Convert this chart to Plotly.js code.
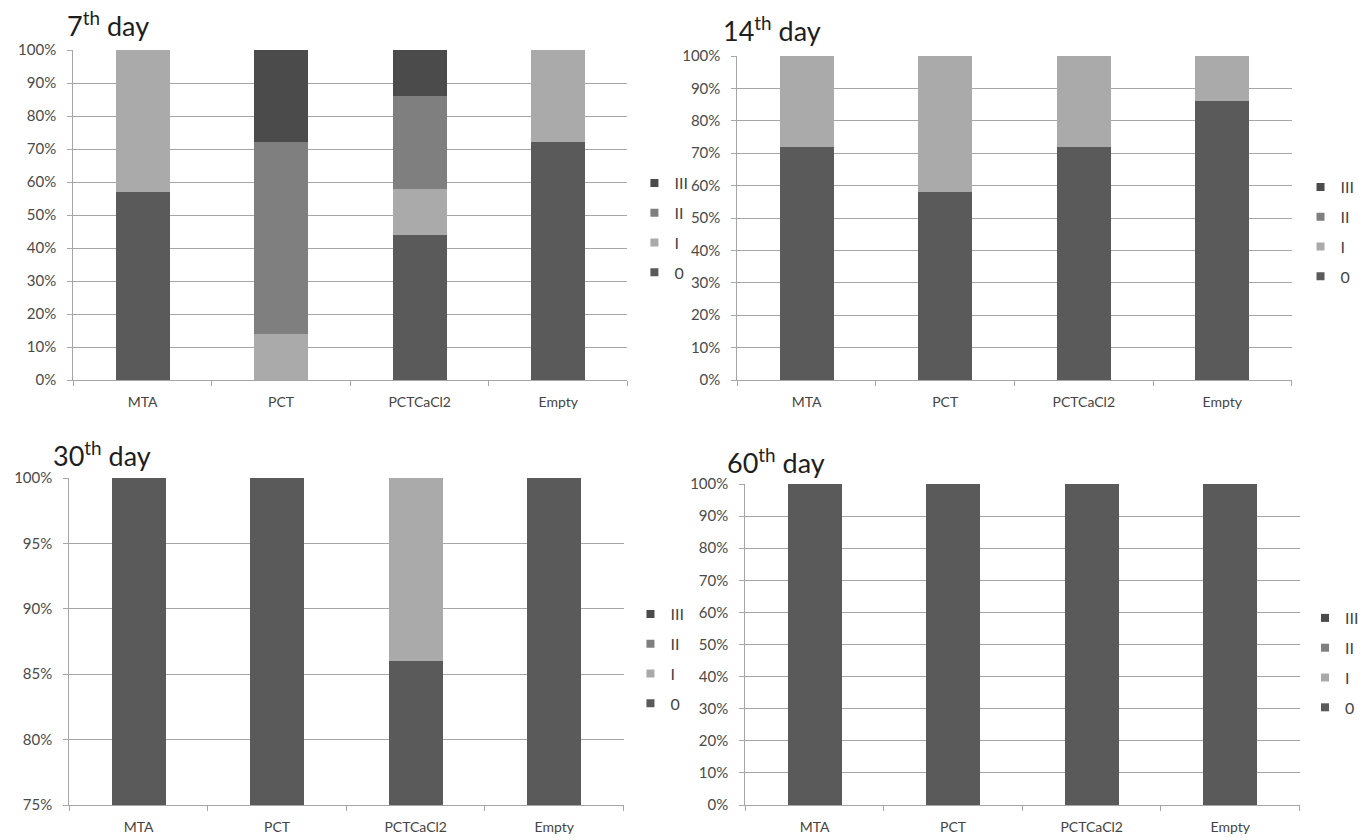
<!DOCTYPE html>
<html>
<head>
<meta charset="utf-8">
<script src="https://cdn.plot.ly/plotly-3.0.1.min.js"></script>
<style>html,body{margin:0;padding:0;background:#fff;}#chart{width:1364px;height:840px;}</style>
</head>
<body>
<div id="chart"></div>
<script>
const categories = ["MTA", "PCT", "PCTCaCl2", "Empty"];
const gradeNames = ["0", "I", "II", "III"];
const gradeColors = ["#5a5a5a", "#aaaaaa", "#7f7f7f", "#4b4b4b"];
const panelTitles = ["7<sup>th</sup> day", "14<sup>th</sup> day", "30<sup>th</sup> day", "60<sup>th</sup> day"];

// values in percent, per grade, per category
const day7_0   = [57, 0, 44, 72];
const day7_I   = [43, 14, 14, 28];
const day7_II  = [0, 58, 28, 0];
const day7_III = [0, 28, 14, 0];

const day14_0   = [72, 58, 72, 86];
const day14_I   = [28, 42, 28, 14];
const day14_II  = [0, 0, 0, 0];
const day14_III = [0, 0, 0, 0];

const day30_0   = [100, 100, 86, 100];
const day30_I   = [0, 0, 14, 0];
const day30_II  = [0, 0, 0, 0];
const day30_III = [0, 0, 0, 0];

const day60_0   = [100, 100, 100, 100];
const day60_I   = [0, 0, 0, 0];
const day60_II  = [0, 0, 0, 0];
const day60_III = [0, 0, 0, 0];

const yRanges = [[0, 100], [0, 100], [75, 100], [0, 100]];
const yDticks = [10, 10, 5, 10];

const panels = [
  [day7_0, day7_I, day7_II, day7_III],
  [day14_0, day14_I, day14_II, day14_III],
  [day30_0, day30_I, day30_II, day30_III],
  [day60_0, day60_I, day60_II, day60_III]
];

const W = 1364, H = 840;
const px = v => v / W, py = v => 1 - v / H;
// plot-area boxes in pixels: [left, right, top, bottom]
const boxes = [
  [74, 634, 50, 380],
  [745, 1305, 56, 380],
  [70, 630, 478, 805],
  [753, 1313, 484, 805]
];
const legendPos = [[641, 166], [1314, 170], [637, 597], [1319, 601]];
const titlePos = [[66, 24], [728, 29], [52, 454], [733, 461]];

const data = [];
const layout = {
  width: W, height: H,
  margin: {l: 0, r: 0, t: 0, b: 0},
  paper_bgcolor: "#fff", plot_bgcolor: "#fff",
  barmode: "stack",
  font: {family: "Lato, 'Open Sans', sans-serif", size: 15, color: "#4a4a4a"},
  annotations: []
};

panels.forEach((series, p) => {
  const sfx = p === 0 ? "" : String(p + 1);
  const legName = "legend" + sfx;
  series.forEach((vals, g) => {
    data.push({
      type: "bar",
      x: categories,
      y: vals,
      name: gradeNames[g],
      marker: {color: gradeColors[g], line: {width: 0}},
      width: 0.39,
      xaxis: "x" + sfx,
      yaxis: "y" + sfx,
      showlegend: false,
      hoverinfo: "x+y+name"
    });
  });
  // legend entries (small square swatches), listed III, II, I, 0 from top
  for (let g = gradeNames.length - 1; g >= 0; g--) {
    data.push({
      type: "scatter",
      mode: "markers",
      x: [null], y: [null],
      name: gradeNames[g],
      marker: {symbol: "square", size: 8, color: gradeColors[g]},
      xaxis: "x" + sfx,
      yaxis: "y" + sfx,
      legend: legName,
      legendgroup: "p" + p + "g" + g,
      showlegend: true,
      hoverinfo: "skip"
    });
  }
  const b = boxes[p];
  layout["xaxis" + sfx] = {
    domain: [px(b[0]), px(b[1])],
    anchor: "y" + sfx,
    type: "category",
    range: [-0.5, 3.5],
    showgrid: false,
    showline: true, linecolor: "#a6a6a6", linewidth: 1,
    ticks: "outside", tickson: "boundaries", ticklen: 5, tickcolor: "#a6a6a6",
    ticklabelstandoff: 9,
    tickfont: {size: 14, color: "#444"},
    fixedrange: true
  };
  layout["yaxis" + sfx] = {
    domain: [py(b[3]), py(b[2])],
    anchor: "x" + sfx,
    range: yRanges[p],
    dtick: yDticks[p],
    tick0: 0,
    ticksuffix: "%",
    showgrid: true, gridcolor: "#a6a6a6", gridwidth: 1,
    showline: true, linecolor: "#a6a6a6", linewidth: 1,
    ticks: "outside", ticklen: 5, tickcolor: "#a6a6a6",
    ticklabelstandoff: 8,
    tickfont: {size: 15, color: "#4a4a4a"},
    zeroline: false,
    fixedrange: true
  };
  layout[legName] = {
    x: px(legendPos[p][0]), y: py(legendPos[p][1]),
    xanchor: "left", yanchor: "top",
    traceorder: "grouped",
    font: {size: 16, color: "#444"},
    bgcolor: "rgba(0,0,0,0)",
    itemwidth: 30,
    tracegroupgap: 6
  };
  layout.annotations.push({
    xref: "paper", yref: "paper",
    x: px(titlePos[p][0]), y: py(titlePos[p][1]),
    xanchor: "left", yanchor: "middle",
    text: panelTitles[p],
    showarrow: false,
    font: {size: 27, color: "#1e1e1e"}
  });
});

Plotly.newPlot("chart", data, layout, {displayModeBar: false, staticPlot: true});
</script>
</body>
</html>
